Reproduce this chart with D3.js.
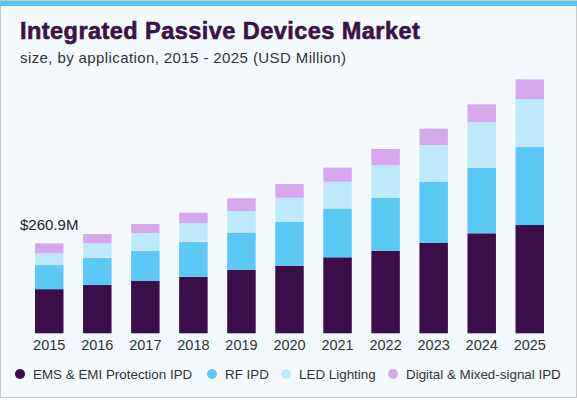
<!DOCTYPE html>
<html>
<head>
<meta charset="utf-8">
<script src="https://cdn.jsdelivr.net/npm/d3@7"></script>
<style>
  body { margin: 0; background: #ffffff; }
  text { font-family: "Liberation Sans", Arial, sans-serif; }
</style>
</head>
<body>
<div id="chart"></div>
<script>
// values in USD million
const years = ["2015", "2016", "2017", "2018", "2019", "2020", "2021", "2022", "2023", "2024", "2025"];
const ems = [128.0, 140.0, 151.7, 164.0, 184.5, 196.0, 220.4, 239.5, 261.9, 290.0, 314.0];
const rf = [69.8, 79.2, 87.9, 100.6, 107.3, 127.6, 140.0, 153.7, 177.8, 190.2, 226.2];
const led = [34.0, 41.8, 50.5, 54.2, 62.9, 69.6, 79.2, 94.0, 106.4, 131.7, 139.2];
const digital = [29.1, 27.0, 27.0, 30.7, 36.8, 39.7, 40.6, 47.3, 47.3, 52.2, 57.1];
const seriesNames = ["EMS & EMI Protection IPD", "RF IPD", "LED Lighting", "Digital & Mixed-signal IPD"];
const colors = ["#3a0f47", "#5bc8f5", "#bde9fa", "#d4a8ea"];
const firstLabel = "$260.9M";

const width = 577, height = 400;

var svg = d3.select("#chart")
  .append("svg")
  .attr("width", width)
  .attr("height", height);

// frame
svg.append("rect")
  .attr("x", 0.5).attr("y", 0.5)
  .attr("width", width - 1).attr("height", 397)
  .attr("fill", "#f4f9fd")
  .attr("stroke", "#c8c8c8");
svg.append("rect")
  .attr("x", 0).attr("y", 1)
  .attr("width", width).attr("height", 5)
  .attr("fill", "#5bc4ef");

// titles
svg.append("text")
  .attr("x", 20).attr("y", 39)
  .text("Integrated Passive Devices Market")
  .style("font-weight", "bold")
  .style("font-size", "23.5px")
  .style("letter-spacing", "0.45px")
  .attr("fill", "#3a1247")
  .attr("stroke", "#3a1247")
  .attr("stroke-width", 0.6);

svg.append("text")
  .attr("x", 20).attr("y", 63)
  .text("size, by application, 2015 - 2025 (USD Million)")
  .style("font-size", "15px")
  .style("letter-spacing", "0.4px")
  .attr("fill", "#333333");

// scales
var x = d3.scaleBand()
  .domain(years)
  .range([35, 544])
  .paddingInner(0.407)
  .paddingOuter(0);

var baseline = 333.3;
var y = d3.scaleLinear().domain([0, 1000]).range([baseline, baseline - 1000 / 2.9]);

var rows = years.map((yr, i) => ({
  year: yr, ems: ems[i], rf: rf[i], led: led[i], digital: digital[i]
}));
var keys = ["ems", "rf", "led", "digital"];
var stacked = d3.stack().keys(keys)(rows);

svg.selectAll("g.layer")
  .data(stacked)
  .enter()
  .append("g")
  .attr("class", "layer")
  .attr("fill", (d, i) => colors[i])
  .selectAll("rect")
  .data((d) => d)
  .enter()
  .append("rect")
  .attr("x", (d) => x(d.data.year))
  .attr("width", x.bandwidth())
  .attr("y", (d) => y(d[1]))
  .attr("height", (d) => y(d[0]) - y(d[1]));

// x axis labels
svg.append("g")
  .attr("transform", "translate(0," + baseline + ")")
  .call(d3.axisBottom(x).tickSize(0).tickPadding(6))
  .call((g) => g.select(".domain").remove())
  .selectAll("text")
  .style("font-family", "Liberation Sans, Arial, sans-serif")
  .style("font-size", "14.5px")
  .attr("fill", "#333333");

// value label on first bar
var firstTotal = ems[0] + rf[0] + led[0] + digital[0];
svg.append("text")
  .attr("x", 20)
  .attr("y", y(firstTotal) - 13)
  .text(firstLabel)
  .style("font-size", "15px")
  .attr("fill", "#222222");

// legend
var legendX = [20, 212, 286, 393];
var legend = svg.selectAll("g.legend")
  .data(seriesNames)
  .enter()
  .append("g")
  .attr("class", "legend")
  .attr("transform", (d, i) => "translate(" + legendX[i] + ",374)");

legend.append("circle")
  .attr("r", 5)
  .attr("fill", (d, i) => colors[i]);

legend.append("text")
  .attr("x", 13)
  .attr("y", 5)
  .text((d) => d)
  .style("font-size", "13.4px")
  .attr("fill", "#333333");
</script>
</body>
</html>
